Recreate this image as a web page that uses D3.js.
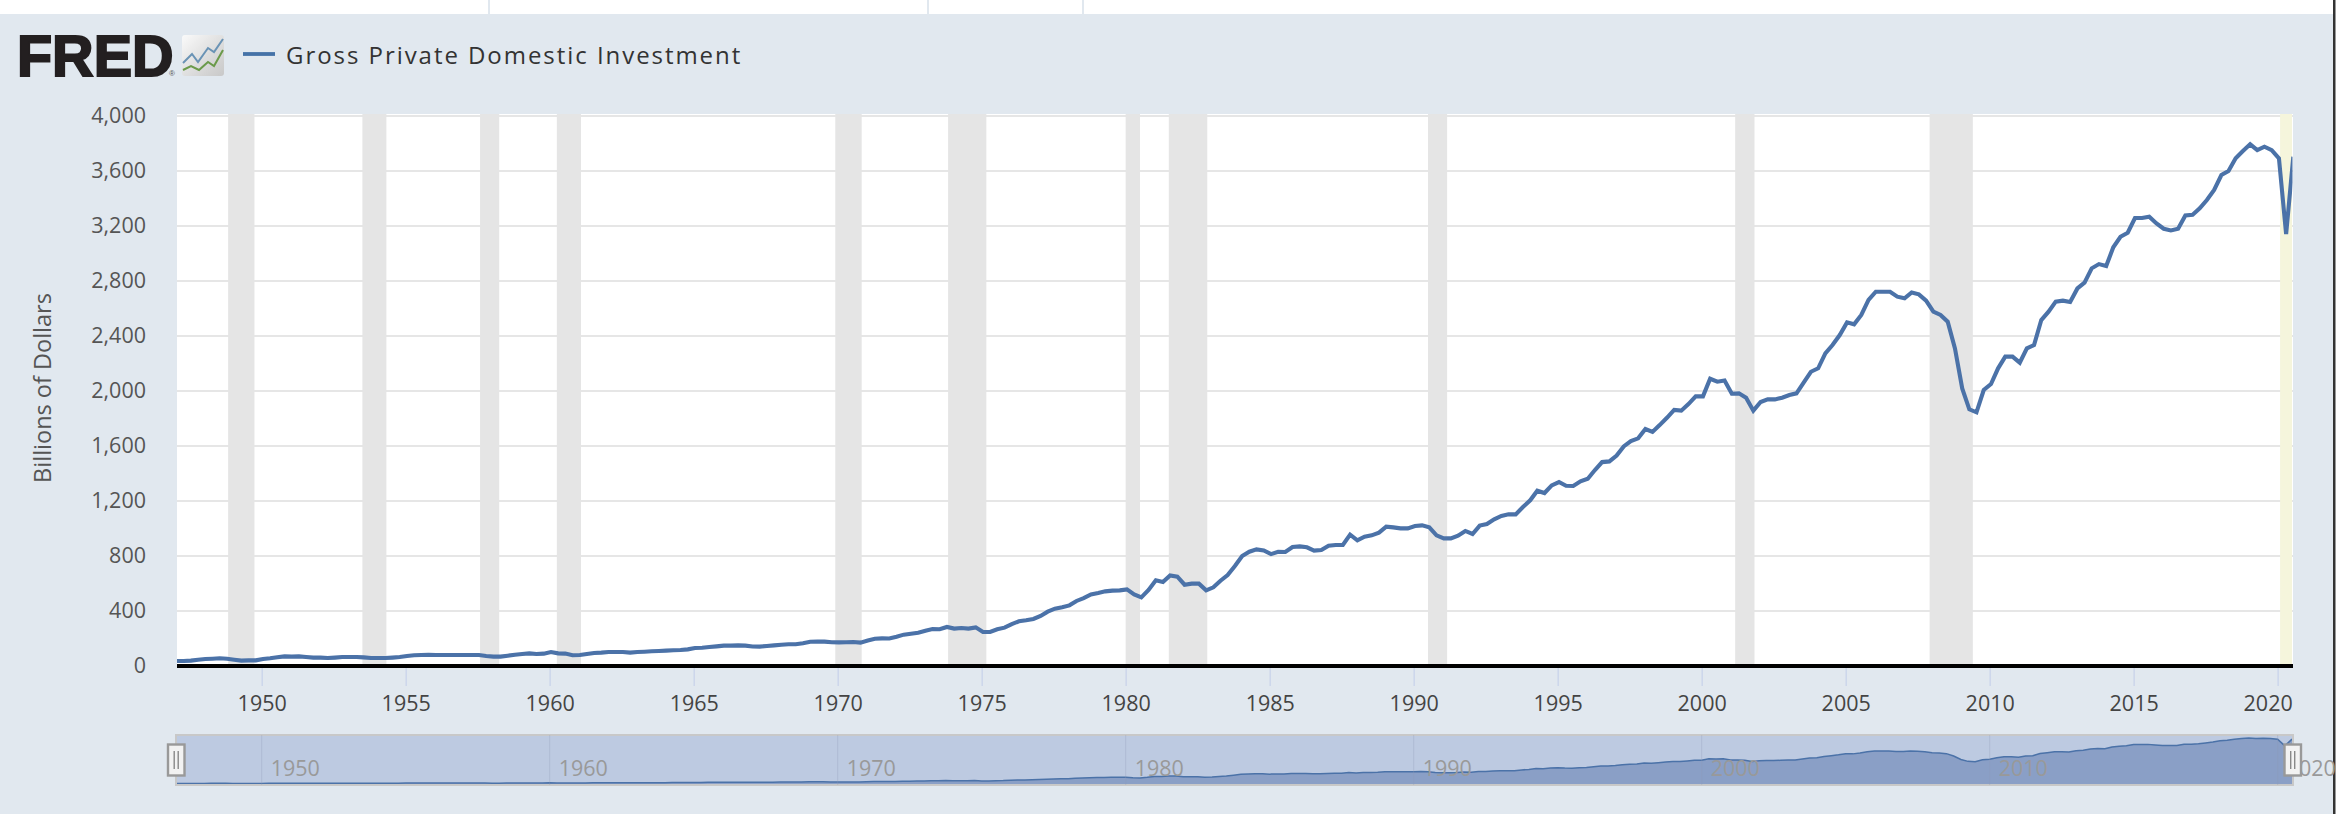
<!DOCTYPE html>
<html>
<head>
<meta charset="utf-8">
<script src="https://cdn.jsdelivr.net/npm/d3@7"></script>
<style>
html, body { margin: 0; padding: 0; background: #fff; overflow: hidden; }
svg { display: block; }
text { font-family: "Open Sans", sans-serif; }
</style>
</head>
<body>
<svg id="chart" width="2336" height="814"></svg>
<script>
//quarterly values in billions of dollars, first one is 1947 Q1
var startYear = 1947;
var gpdi = [
  36,36,39,46, 51,53,56,53, 46,39,41,41, 51,56,63,70, 68,70,65,61, 61,58,61,65,
  65,65,63,58, 58,58,61,65, 73,78,80,82, 80,80,80,80, 80,80,80,73, 68,68,75,82,
  87,92,87,90, 102,92,90,78, 80,87,95,97, 102,102,102,97, 102,104,107,109, 112,114,116,121,
  131,133,138,143, 148,148,150,148, 142,141,146,150, 155,158,158,165, 176,178,177,173,
  172,173,175,170, 186,198,201,200, 213,228,235,242, 257,269,267,284, 272,276,272,281,
  247,247,267,279, 305,325,332,342, 364,395,417,427, 441,473,494,521, 531,543,548,550,
  557,521,499,553, 623,611,659,650, 591,599,599,550, 572,620,662,727, 800,831,848,841,
  814,831,829,865, 870,863,839,844, 875,880,880,955, 914,941,950,970, 1013,1008,1001,1001,
  1018,1023,1008,950, 928,928,948,982, 960,1021,1033,1067, 1091,1103,1103,1156, 1205,1275,1258,1314,
  1338,1311,1309,1343, 1362,1425,1483,1488, 1530,1597,1636,1656, 1723,1702,1752,1805,
  1862,1857,1905,1961, 1961,2089,2068,2077, 1980,1983,1951,1857, 1920,1939,1939,1951,
  1971,1983,2061,2140, 2165,2274,2334,2407, 2499,2485,2553,2662, 2722,2722,2722,2686,
  2674,2717,2703,2657, 2577,2553,2504,2310, 2019,1867,1845,2007, 2051,2165,2250,2250,
  2206,2310,2334,2516, 2577,2650,2657,2647, 2746,2788,2892,2923, 2909,3045,3122,3151,
  3258,3258,3268,3219, 3180,3168,3180,3277, 3282,3328,3389,3462, 3571,3600,3692,3745,
  3794,3752,3777,3752, 3692,3141,3704
];

//shaded recessions, [start, end] as year-month
var recessions = [
  ["1948-11","1949-10"], ["1953-07","1954-05"], ["1957-08","1958-04"], ["1960-04","1961-02"],
  ["1969-12","1970-11"], ["1973-11","1975-03"], ["1980-01","1980-07"], ["1981-07","1982-11"],
  ["1990-07","1991-03"], ["2001-03","2001-11"], ["2007-12","2009-06"]
];
var currentRecession = ["2020-02","2020-07"];

var yTicks = [0,400,800,1200,1600,2000,2400,2800,3200,3600,4000];
var xTickYears = d3.range(1950, 2021, 5);
var navTickYears = d3.range(1950, 2021, 10);
var legendLabel = "Gross Private Domestic Investment";
var yTitle = "Billions of Dollars";

var parseMonth = d3.utcParse("%Y-%m");
var dates = gpdi.map(function(d, i) { return new Date(Date.UTC(startYear, i * 3, 1)); });
function yearDate(y) { return new Date(Date.UTC(y, 0, 1)); }

var svg = d3.select("#chart");

var plot = { left: 177, right: 2293, top: 114, bottom: 666 };
var nav = { left: 176, right: 2293, top: 735, bottom: 785 };

var x = d3.scaleUtc()
  .domain([new Date(Date.UTC(1947, 0, 1)), new Date(Date.UTC(2020, 6, 1))])
  .range([175.3, 2292]);
var y = d3.scaleLinear().domain([0, 4000]).range([666, 116]);
var navY = d3.scaleLinear().domain([0, 3794]).range([784, 738]);

//page background and the white strip on top
svg.append("rect").attr("width", 2336).attr("height", 814).attr("fill", "#e1e8ef");
svg.append("rect").attr("width", 2336).attr("height", 14).attr("fill", "#fff");
[489, 928, 1083].forEach(function(px) {
  svg.append("rect").attr("x", px - 1).attr("width", 2).attr("height", 14).attr("fill", "#e1e8ef");
});
svg.append("rect").attr("x", 2333).attr("width", 2).attr("height", 814).attr("fill", "#333");
svg.append("rect").attr("x", 2335).attr("width", 1).attr("height", 814).attr("fill", "#999");

//logo
svg.append("text").attr("x", 17).attr("y", 75.5)
  .style("font-family", "'Liberation Sans'").style("font-weight", 700).style("font-size", "57.5px")
  .attr("fill", "#231f20").attr("stroke", "#231f20").attr("stroke-width", 2)
  .text("FRED");
svg.append("text").attr("x", 169).attr("y", 76)
  .style("font-family", "'Liberation Sans'").style("font-size", "8px").attr("fill", "#555").text("®");

var grad = svg.append("defs").append("linearGradient").attr("id", "iconFill")
  .attr("x1", 0).attr("y1", 0).attr("x2", 1).attr("y2", 1);
grad.append("stop").attr("offset", "0%").attr("stop-color", "#fafafa");
grad.append("stop").attr("offset", "70%").attr("stop-color", "#d6d6d6");
grad.append("stop").attr("offset", "100%").attr("stop-color", "#c8c8c8");
svg.append("rect").attr("x", 182).attr("y", 35).attr("width", 42).attr("height", 41).attr("rx", 3)
  .attr("fill", "url(#iconFill)");
svg.append("path").attr("d", "M183 63L192 54L198 62L208 48L214 52L223 39")
  .attr("fill", "none").attr("stroke", "#6a93b5").attr("stroke-width", 2);
svg.append("path").attr("d", "M183 70L191 66L199 70L208 62L214 66L223 50")
  .attr("fill", "none").attr("stroke", "#6b9a4a").attr("stroke-width", 2);

//legend
svg.append("line").attr("x1", 243).attr("x2", 275).attr("y1", 54).attr("y2", 54)
  .attr("stroke", "#4572a7").attr("stroke-width", 3.8);
svg.append("text").attr("x", 286).attr("y", 64)
  .style("font-size", "24px").style("letter-spacing", "1.95px").attr("fill", "#333")
  .text(legendLabel);

//plot background and recession bands
svg.append("rect").attr("x", plot.left).attr("y", plot.top)
  .attr("width", plot.right - plot.left).attr("height", plot.bottom - plot.top).attr("fill", "#fff");

svg.append("g").selectAll("line").data(yTicks.filter(function(d) { return d > 0; })).enter().append("line")
  .attr("x1", plot.left).attr("x2", plot.right)
  .attr("y1", function(d) { return y(d); }).attr("y2", function(d) { return y(d); })
  .attr("stroke", "#e6e6e6").attr("stroke-width", 2);

svg.append("g").selectAll("rect").data(recessions).enter().append("rect")
  .attr("x", function(d) { return x(parseMonth(d[0])); })
  .attr("width", function(d) { return x(parseMonth(d[1])) - x(parseMonth(d[0])); })
  .attr("y", plot.top).attr("height", plot.bottom - plot.top)
  .attr("fill", "#e5e5e5");
svg.append("rect")
  .attr("x", x(parseMonth(currentRecession[0])))
  .attr("width", x(parseMonth(currentRecession[1])) - x(parseMonth(currentRecession[0])))
  .attr("y", plot.top).attr("height", plot.bottom - plot.top)
  .attr("fill", "#f5f5dc");

//y axis
var yAxis = svg.append("g").attr("transform", "translate(146,0)")
  .call(d3.axisLeft(y).tickValues(yTicks).tickSize(0).tickPadding(0).tickFormat(d3.format(",")));
yAxis.select(".domain").remove();
yAxis.selectAll("text").style("font-size", "21.5px").style("font-family", "'Open Sans'")
  .attr("fill", "#555").attr("dy", "0.3em");

svg.append("text")
  .attr("transform", "translate(51,388) rotate(-90)")
  .attr("text-anchor", "middle")
  .style("font-size", "23.5px").attr("fill", "#555")
  .text(yTitle);

//x axis
var xAxis = svg.append("g").attr("transform", "translate(0,666)")
  .call(d3.axisBottom(x).tickValues(xTickYears.map(yearDate)).tickSize(20).tickPadding(10)
    .tickFormat(d3.utcFormat("%Y")));
xAxis.select(".domain").remove();
xAxis.selectAll("line").attr("stroke", "#ccd6eb").attr("stroke-width", 1.5);
xAxis.selectAll("text").style("font-size", "21.5px").style("font-family", "'Open Sans'")
  .attr("fill", "#444");
xAxis.selectAll("text").filter(function(d) { return d.getUTCFullYear() === 2020; })
  .attr("dx", "-10");

//series line
svg.append("clipPath").attr("id", "plotClip").append("rect")
  .attr("x", plot.left).attr("y", plot.top)
  .attr("width", plot.right - plot.left - 0.5).attr("height", plot.bottom - plot.top);

var line = d3.line()
  .x(function(d, i) { return x(dates[i]); })
  .y(function(d) { return y(d); });

svg.append("g").attr("clip-path", "url(#plotClip)")
  .append("path").datum(gpdi)
  .attr("transform", "translate(1.3,0)")
  .attr("d", line)
  .attr("fill", "none").attr("stroke", "#4b72a8").attr("stroke-width", 4.1)
  .attr("stroke-linejoin", "miter");

svg.append("line").attr("x1", plot.left).attr("x2", plot.right).attr("y1", 666).attr("y2", 666)
  .attr("stroke", "#000").attr("stroke-width", 4);

//navigator
svg.append("rect").attr("x", nav.left).attr("y", nav.top)
  .attr("width", nav.right - nav.left).attr("height", nav.bottom - nav.top)
  .attr("fill", "#bdcae1");

var navArea = d3.area()
  .x(function(d, i) { return x(dates[i]); })
  .y0(784)
  .y1(function(d) { return navY(d); });

svg.append("path").datum(gpdi).attr("d", navArea).attr("fill", "#8a9fc6");
svg.append("path").datum(gpdi)
  .attr("d", d3.line().x(function(d, i) { return x(dates[i]); }).y(function(d) { return navY(d); }))
  .attr("fill", "none").attr("stroke", "#4b72a8").attr("stroke-width", 1.5);

svg.append("rect").attr("x", nav.left).attr("y", nav.top)
  .attr("width", nav.right - nav.left).attr("height", nav.bottom - nav.top)
  .attr("fill", "none").attr("stroke", "#c8c8c8").attr("stroke-width", 2);

var navTicks = svg.append("g").selectAll("g").data(navTickYears).enter().append("g")
  .attr("transform", function(d) { return "translate(" + x(yearDate(d)) + ",0)"; });
navTicks.append("line").attr("y1", nav.top).attr("y2", nav.bottom)
  .attr("stroke", "#8d99b5").attr("stroke-opacity", 0.3).attr("stroke-width", 1);
navTicks.append("text").attr("x", 9).attr("y", 776)
  .style("font-size", "21.5px").attr("fill", "#999")
  .text(function(d) { return d; });

//navigator handles
[176, 2292.5].forEach(function(px) {
  var h = svg.append("g").attr("transform", "translate(" + px + ",760)");
  h.append("rect").attr("x", -8).attr("y", -15.5).attr("width", 16.5).attr("height", 31)
    .attr("fill", "#f2f2f2").attr("stroke", "#999").attr("stroke-width", 2.4);
  h.append("path").attr("d", "M-1.8 -9V9M2.2 -9V9").attr("stroke", "#888").attr("stroke-width", 1.4);
});
</script>
</body>
</html>
